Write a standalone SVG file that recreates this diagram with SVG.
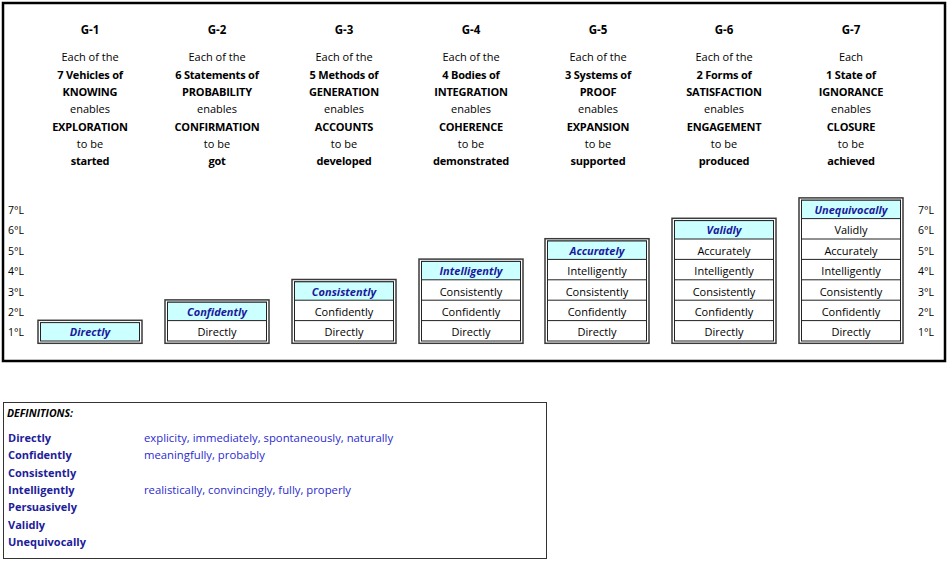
<svg xmlns="http://www.w3.org/2000/svg" width="950" height="566" viewBox="0 0 950 566">
<style>
text{font-family:"Open Sans","Noto Sans","Liberation Sans",sans-serif;font-size:11px;fill:#000;text-anchor:middle}
.b{font-weight:bold;letter-spacing:-0.2px}
.h{font-weight:bold;font-size:11.5px}
.lv{text-anchor:start;font-size:10.5px}
.hd{font-weight:bold;font-style:italic;fill:#1a1a9c}
.outer{fill:#fff;stroke:#3a3a3a;stroke-width:1.5}
.inner{fill:#fff;stroke:#222;stroke-width:1}
.top{fill:#ccffff;stroke:#222;stroke-width:1}
.sep{stroke:#222;stroke-width:1}
.dt{text-anchor:start;font-weight:bold;fill:#20209a}
.dd{text-anchor:start;fill:#2a2ad0;font-size:11.3px}
</style>
<rect x="0" y="0" width="950" height="566" fill="#fff"/>
<rect id="frame" x="3" y="3" width="942" height="358" fill="#fff" stroke="#000" stroke-width="2.5"/>

<g id="levels-left">
<text class="lv" x="8" y="214">7°L</text>
<text class="lv" x="8" y="234">6°L</text>
<text class="lv" x="8" y="255">5°L</text>
<text class="lv" x="8" y="275">4°L</text>
<text class="lv" x="8" y="296">3°L</text>
<text class="lv" x="8" y="316">2°L</text>
<text class="lv" x="8" y="336">1°L</text>
</g>
<g id="levels-right">
<text class="lv" x="918" y="214">7°L</text>
<text class="lv" x="918" y="234">6°L</text>
<text class="lv" x="918" y="255">5°L</text>
<text class="lv" x="918" y="275">4°L</text>
<text class="lv" x="918" y="296">3°L</text>
<text class="lv" x="918" y="316">2°L</text>
<text class="lv" x="918" y="336">1°L</text>
</g>

<g id="G1">
<text class="h" x="90" y="34">G-1</text>
<text x="90" y="61">Each of the</text>
<text class="b" x="90" y="79">7 Vehicles of</text>
<text class="b" x="90" y="96">KNOWING</text>
<text x="90" y="113">enables</text>
<text class="b" x="90" y="131">EXPLORATION</text>
<text x="90" y="148">to be</text>
<text class="b" x="90" y="165">started</text>
<rect class="outer" x="38" y="320.3" width="104" height="23"/>
<rect class="top" x="40.5" y="322.6" width="99" height="18.4"/>
<text class="hd" x="90" y="336">Directly</text>
</g>

<g id="G2">
<text class="h" x="217" y="34">G-2</text>
<text x="217" y="61">Each of the</text>
<text class="b" x="217" y="79">6 Statements of</text>
<text class="b" x="217" y="96">PROBABILITY</text>
<text x="217" y="113">enables</text>
<text class="b" x="217" y="131">CONFIRMATION</text>
<text x="217" y="148">to be</text>
<text class="b" x="217" y="165">got</text>
<rect class="outer" x="165" y="299.9" width="104" height="43.4"/>
<rect class="inner" x="167.5" y="302.2" width="99" height="38.8"/>
<rect class="top" x="167.5" y="302.2" width="99" height="18.4"/>
<text class="hd" x="217" y="316">Confidently</text>
<text x="217" y="336">Directly</text>
</g>

<g id="G3">
<text class="h" x="344" y="34">G-3</text>
<text x="344" y="61">Each of the</text>
<text class="b" x="344" y="79">5 Methods of</text>
<text class="b" x="344" y="96">GENERATION</text>
<text x="344" y="113">enables</text>
<text class="b" x="344" y="131">ACCOUNTS</text>
<text x="344" y="148">to be</text>
<text class="b" x="344" y="165">developed</text>
<rect class="outer" x="292" y="279.5" width="104" height="63.8"/>
<rect class="inner" x="294.5" y="281.8" width="99" height="59.2"/>
<rect class="top" x="294.5" y="281.8" width="99" height="18.4"/>
<line class="sep" x1="294.5" y1="320.6" x2="393.5" y2="320.6"/>
<text class="hd" x="344" y="296">Consistently</text>
<text x="344" y="316">Confidently</text>
<text x="344" y="336">Directly</text>
</g>

<g id="G4">
<text class="h" x="471" y="34">G-4</text>
<text x="471" y="61">Each of the</text>
<text class="b" x="471" y="79">4 Bodies of</text>
<text class="b" x="471" y="96">INTEGRATION</text>
<text x="471" y="113">enables</text>
<text class="b" x="471" y="131">COHERENCE</text>
<text x="471" y="148">to be</text>
<text class="b" x="471" y="165">demonstrated</text>
<rect class="outer" x="419" y="259.1" width="104" height="84.2"/>
<rect class="inner" x="421.5" y="261.4" width="99" height="79.6"/>
<rect class="top" x="421.5" y="261.4" width="99" height="18.4"/>
<line class="sep" x1="421.5" y1="300.2" x2="520.5" y2="300.2"/>
<line class="sep" x1="421.5" y1="320.6" x2="520.5" y2="320.6"/>
<text class="hd" x="471" y="275">Intelligently</text>
<text x="471" y="296">Consistently</text>
<text x="471" y="316">Confidently</text>
<text x="471" y="336">Directly</text>
</g>

<g id="G5">
<text class="h" x="598" y="34">G-5</text>
<text x="598" y="61">Each of the</text>
<text class="b" x="598" y="79">3 Systems of</text>
<text class="b" x="598" y="96">PROOF</text>
<text x="598" y="113">enables</text>
<text class="b" x="598" y="131">EXPANSION</text>
<text x="598" y="148">to be</text>
<text class="b" x="598" y="165">supported</text>
<rect class="outer" x="545" y="238.7" width="104" height="104.6"/>
<rect class="inner" x="547.5" y="241" width="99" height="100"/>
<rect class="top" x="547.5" y="241" width="99" height="18.4"/>
<line class="sep" x1="547.5" y1="279.8" x2="646.5" y2="279.8"/>
<line class="sep" x1="547.5" y1="300.2" x2="646.5" y2="300.2"/>
<line class="sep" x1="547.5" y1="320.6" x2="646.5" y2="320.6"/>
<text class="hd" x="597" y="255">Accurately</text>
<text x="597" y="275">Intelligently</text>
<text x="597" y="296">Consistently</text>
<text x="597" y="316">Confidently</text>
<text x="597" y="336">Directly</text>
</g>

<g id="G6">
<text class="h" x="724" y="34">G-6</text>
<text x="724" y="61">Each of the</text>
<text class="b" x="724" y="79">2 Forms of</text>
<text class="b" x="724" y="96">SATISFACTION</text>
<text x="724" y="113">enables</text>
<text class="b" x="724" y="131">ENGAGEMENT</text>
<text x="724" y="148">to be</text>
<text class="b" x="724" y="165">produced</text>
<rect class="outer" x="672" y="218.3" width="104" height="125"/>
<rect class="inner" x="674.5" y="220.6" width="99" height="120.4"/>
<rect class="top" x="674.5" y="220.6" width="99" height="18.4"/>
<line class="sep" x1="674.5" y1="259.4" x2="773.5" y2="259.4"/>
<line class="sep" x1="674.5" y1="279.8" x2="773.5" y2="279.8"/>
<line class="sep" x1="674.5" y1="300.2" x2="773.5" y2="300.2"/>
<line class="sep" x1="674.5" y1="320.6" x2="773.5" y2="320.6"/>
<text class="hd" x="724" y="234">Validly</text>
<text x="724" y="255">Accurately</text>
<text x="724" y="275">Intelligently</text>
<text x="724" y="296">Consistently</text>
<text x="724" y="316">Confidently</text>
<text x="724" y="336">Directly</text>
</g>

<g id="G7">
<text class="h" x="851" y="34">G-7</text>
<text x="851" y="61">Each</text>
<text class="b" x="851" y="79">1 State of</text>
<text class="b" x="851" y="96">IGNORANCE</text>
<text x="851" y="113">enables</text>
<text class="b" x="851" y="131">CLOSURE</text>
<text x="851" y="148">to be</text>
<text class="b" x="851" y="165">achieved</text>
<rect class="outer" x="799" y="197.9" width="104" height="145.4"/>
<rect class="inner" x="801.5" y="200.2" width="99" height="140.8"/>
<rect class="top" x="801.5" y="200.2" width="99" height="18.4"/>
<line class="sep" x1="801.5" y1="239" x2="900.5" y2="239"/>
<line class="sep" x1="801.5" y1="259.4" x2="900.5" y2="259.4"/>
<line class="sep" x1="801.5" y1="279.8" x2="900.5" y2="279.8"/>
<line class="sep" x1="801.5" y1="300.2" x2="900.5" y2="300.2"/>
<line class="sep" x1="801.5" y1="320.6" x2="900.5" y2="320.6"/>
<text class="hd" x="851" y="214">Unequivocally</text>
<text x="851" y="234">Validly</text>
<text x="851" y="255">Accurately</text>
<text x="851" y="275">Intelligently</text>
<text x="851" y="296">Consistently</text>
<text x="851" y="316">Confidently</text>
<text x="851" y="336">Directly</text>
</g>

<g id="connectors"></g>

<g id="definitions">
<rect x="3.5" y="402.5" width="543" height="156" fill="#fff" stroke="#333" stroke-width="1"/>
<text x="7" y="417" style="text-anchor:start;font-weight:bold;font-style:italic;font-size:10.5px">DEFINITIONS:</text>
<text class="dt" x="8" y="442">Directly</text>
<text class="dd" x="144" y="442">explicity, immediately, spontaneously, naturally</text>
<text class="dt" x="8" y="459">Confidently</text>
<text class="dd" x="144" y="459">meaningfully, probably</text>
<text class="dt" x="8" y="477">Consistently</text>
<text class="dt" x="8" y="494">Intelligently</text>
<text class="dd" x="144" y="494">realistically, convincingly, fully, properly</text>
<text class="dt" x="8" y="511">Persuasively</text>
<text class="dt" x="8" y="529">Validly</text>
<text class="dt" x="8" y="546">Unequivocally</text>
</g>
</svg>
